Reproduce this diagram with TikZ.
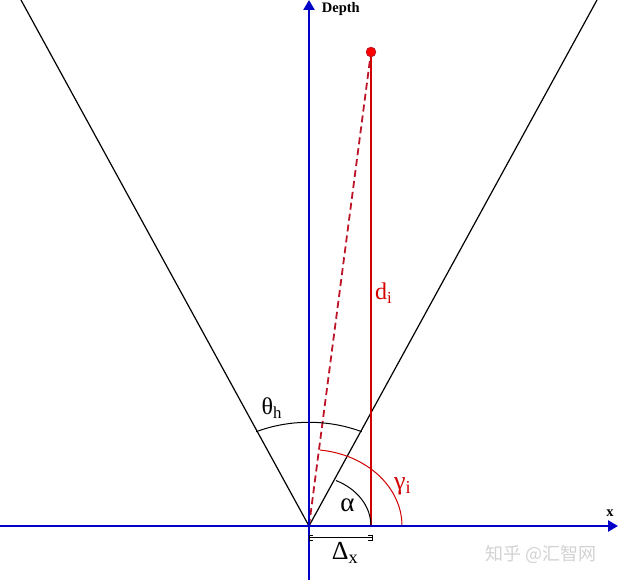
\documentclass[tikz,border=0pt]{standalone}
\usepackage{fontspec}
\setmainfont{Liberation Serif}
\newfontfamily\cjk{Noto Sans CJK SC}
\usetikzlibrary{arrows.meta}
\definecolor{axisblue}{RGB}{0,0,200}
\definecolor{rayred}{RGB}{210,0,0}
\definecolor{dashred}{RGB}{190,20,40}

\begin{document}
\begin{tikzpicture}
            [x=1pt, y=1pt, >={Triangle[length=10pt,width=11pt]},
             axis/.style={draw=axisblue, line width=2.4pt},
             ray/.style={draw=black, line width=1.2pt},
             big/.style={font=\fontsize{24}{28}\selectfont},
             small/.style={font=\fontsize{14.5}{16}\selectfont\bfseries}]
            \useasboundingbox (-309,-54) rectangle (309,526);
            \coordinate (O) at (0, 0);
            \coordinate (xstart) at (-309, 0);
            \coordinate (xend) at (309, 0);
            \coordinate (depthbot) at (0, -54);
            \coordinate (depthtop) at (0, 526);
            \coordinate (lefttop) at (-288, 526);
            \coordinate (righttop) at (288, 526);
            \coordinate (target) at (62, 474);
            \coordinate (targetfoot) at (62, 0);

            \draw[ray] (O) -- (lefttop);
            \draw[ray] (O) -- (righttop);
            \draw[rayred, line width=2.2pt] (targetfoot) -- (target);
            \draw[dashred, line width=1.8pt, dash pattern=on 7pt off 4pt] (O) -- (target);

            % arcs
            \draw[black, line width=1pt] (52.7, 94.3) arc [start angle=65.4, end angle=114.6, x radius=126.7, y radius=103.7];
            \draw[rayred, line width=1pt] (93, 0) arc [start angle=0, end angle=83.2, x radius=93, y radius=76.5];
            \draw[black, line width=1pt] (targetfoot) arc [start angle=0, end angle=64.2, x radius=62, y radius=50.5];

            \draw[->, axis] (xstart) -- (xend);
            \draw[->, axis] (depthbot) -- (depthtop);
            \draw[fill=red, draw=dashred, line width=0.8pt] (target) circle (4.8);

            % Delta x bracket
            \draw[black, line width=1pt] (4, -9.5) -- (0, -9.5) -- (0, -15) -- (4, -15);
            \draw[black, line width=1pt] (0, -12) -- (63, -12);
            \draw[black, line width=1pt] (59, -9.5) -- (63, -9.5) -- (63, -15) -- (59, -15);

            \node[small, anchor=base west, inner sep=0] (depthlabel) at (12.7, 513.5) {Depth};
            \node[small, anchor=base, inner sep=0] (xlabel) at (301, 9.3) {x};
            \node[big, rayred, anchor=base west, inner sep=0] (dlabel) at (66, 226) {d\textsubscript{i}};
            \node[big, anchor=base west, inner sep=0] (thetalabel) at (-47.5, 111) {θ\textsubscript{h}};
            \node[font=\fontsize{27}{30}\selectfont, anchor=base, inner sep=0] (alphalabel) at (38.5, 14) {α};
            \node[font=\fontsize{26}{30}\selectfont, rayred, anchor=base west, inner sep=0] (gammalabel) at (85, 36.5) {γ\textsubscript{i}};
            \node[font=\fontsize{26}{30}\selectfont, anchor=base west, inner sep=0] (deltalabel) at (22.7, -34) {Δ\textsubscript{x}};
            \node[font=\fontsize{18}{20}\selectfont\cjk, gray!35, anchor=base west, inner sep=0] (mark) at (176, -35) {知乎 @汇智网};
\end{tikzpicture}
\end{document}
